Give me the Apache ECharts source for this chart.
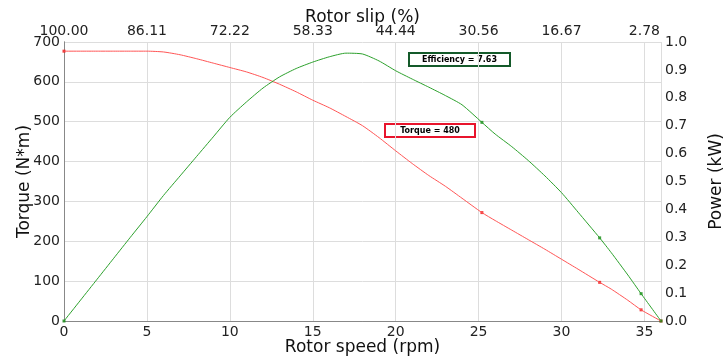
<!DOCTYPE html>
<html>
<head>
<meta charset="utf-8">
<script src="https://cdn.jsdelivr.net/npm/echarts@6/dist/echarts.min.js"></script>
<style>
  html, body {margin: 0; padding: 0; background: #fff;}
  #chart {width: 727px; height: 358px;}
</style>
</head>
<body>
<div id="chart"></div>
<script>
// rotor speed (rpm) samples
const speed = [0, 1, 2, 3, 4, 5, 6, 7, 8, 9, 10, 11, 12, 13, 14, 15, 16, 17, 18, 19, 20, 21, 22, 23, 24, 25.2, 26, 27, 28, 29, 30, 31, 32.3, 33, 34, 34.8, 36];
// torque (N*m)
const torque = [677, 677, 677, 677, 677, 677, 675, 668, 658, 647, 636, 625, 611, 594, 575, 554, 535, 513, 490, 460, 427, 395, 365, 338, 308, 272, 252, 228, 204, 180, 155, 130, 97, 80, 52, 28, 0];
// power (kW)
const power = [0, 0.075, 0.15, 0.225, 0.3, 0.374, 0.45, 0.52, 0.59, 0.66, 0.73, 0.785, 0.835, 0.875, 0.905, 0.928, 0.947, 0.96, 0.957, 0.932, 0.897, 0.867, 0.838, 0.808, 0.775, 0.712, 0.67, 0.625, 0.575, 0.52, 0.46, 0.39, 0.298, 0.245, 0.165, 0.098, 0];
// speeds where markers are drawn
const markerSpeeds = [0, 25.2, 32.3, 34.8, 36];
// top axis tick labels (rotor slip %)
const slipLabels = ['100.00', '86.11', '72.22', '58.33', '44.44', '30.56', '16.67', '2.78'];

const font = 'DejaVu Sans';
const myChart = echarts.init(document.getElementById('chart'));

const zip = (ys) => speed.map((s, i) => [s, ys[i]]);
const marks = (ys) => speed.map((s, i) => markerSpeeds.includes(s) ? [s, ys[i]] : null).filter(Boolean);

const nameStyle = {fontSize: 17, color: '#111', fontFamily: font};

myChart.setOption({
    animation: false,
    textStyle: {fontFamily: font},
    grid: {left: 64, right: 66, top: 42, bottom: 37, outerBoundsMode: 'none', containLabel: false},
    xAxis: [
        {
            type: 'value', min: 0, max: 36, interval: 5, position: 'bottom',
            name: 'Rotor speed (rpm)', nameLocation: 'middle', nameGap: 18, nameMoveOverlap: false,
            nameTextStyle: nameStyle,
            axisLine: {lineStyle: {color: '#888'}},
            axisTick: {show: false},
            axisLabel: {fontSize: 14, color: '#222', margin: 4, showMaxLabel: false, fontFamily: font},
            splitLine: {show: true, lineStyle: {color: '#ddd'}}
        },
        {
            type: 'value', min: 0, max: 36, interval: 5, position: 'top',
            name: 'Rotor slip (%)', nameLocation: 'middle', nameGap: 16, nameMoveOverlap: false,
            nameTextStyle: nameStyle,
            axisLine: {lineStyle: {color: '#888'}},
            axisTick: {show: false},
            axisLabel: {
                fontSize: 14, color: '#222', margin: 4, showMaxLabel: false, fontFamily: font,
                formatter: (v) => slipLabels[Math.round(v / 5)] || ''
            },
            splitLine: {show: false}
        }
    ],
    yAxis: [
        {
            type: 'value', min: 0, max: 700, interval: 100,
            name: 'Torque (N*m)', nameLocation: 'middle', nameGap: 31, nameMoveOverlap: false,
            nameTextStyle: nameStyle,
            axisLine: {show: true, lineStyle: {color: '#888'}},
            axisTick: {show: false},
            axisLabel: {fontSize: 14, color: '#222', margin: 4, fontFamily: font},
            splitLine: {show: true, lineStyle: {color: '#ddd'}}
        },
        {
            type: 'value', min: 0, max: 1, interval: 0.1,
            name: 'Power (kW)', nameLocation: 'middle', nameGap: 47, nameMoveOverlap: false,
            nameTextStyle: nameStyle,
            axisLine: {show: true, lineStyle: {color: '#888'}},
            axisTick: {show: false},
            axisLabel: {fontSize: 14, color: '#222', margin: 4, fontFamily: font, formatter: (v) => v.toFixed(1)},
            splitLine: {show: false}
        }
    ],
    series: [
        {
            type: 'line', name: 'Torque', xAxisIndex: 0, yAxisIndex: 0,
            data: zip(torque), smooth: 0.2, showSymbol: false,
            lineStyle: {color: '#ff5555', width: 1}
        },
        {
            type: 'line', name: 'Power', xAxisIndex: 0, yAxisIndex: 1,
            data: zip(power), smooth: 0.2, showSymbol: false,
            lineStyle: {color: '#2ca02c', width: 1}
        },
        {
            type: 'scatter', xAxisIndex: 0, yAxisIndex: 0,
            data: marks(torque), symbol: 'rect', symbolSize: 3,
            itemStyle: {color: '#ee1111'}
        },
        {
            type: 'scatter', xAxisIndex: 0, yAxisIndex: 1,
            data: marks(power), symbol: 'rect', symbolSize: 3,
            itemStyle: {color: '#118811'}
        }
    ],
    graphic: [
        {
            type: 'group', left: 408, top: 52,
            children: [
                {type: 'rect', shape: {x: 0, y: 0, width: 101, height: 13}, style: {fill: '#fff', stroke: '#145a2a', lineWidth: 2}},
                {type: 'text', x: 50.5, y: 6.5, style: {text: 'Efficiency = 7.63', fontSize: 8, fontWeight: 'bold', fontFamily: font, fill: '#000', align: 'center', verticalAlign: 'middle'}}
            ]
        },
        {
            type: 'group', left: 384, top: 123,
            children: [
                {type: 'rect', shape: {x: 0, y: 0, width: 90, height: 13}, style: {fill: '#fff', stroke: '#e8142c', lineWidth: 2}},
                {type: 'text', x: 45, y: 6.5, style: {text: 'Torque = 480', fontSize: 8, fontWeight: 'bold', fontFamily: font, fill: '#000', align: 'center', verticalAlign: 'middle'}}
            ]
        }
    ]
});
</script>
</body>
</html>
